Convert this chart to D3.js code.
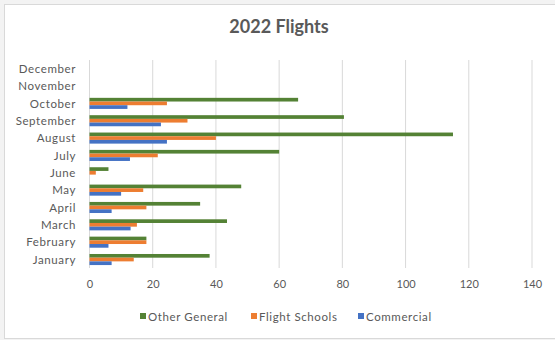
<!DOCTYPE html>
<html><head><meta charset="utf-8">
<script src="https://cdn.jsdelivr.net/npm/d3@7"></script>
<style>
html,body{margin:0;padding:0;background:#f3f3f3;}
svg{display:block;}
text{font-family:Lato,"Open Sans",sans-serif;}
</style></head>
<body>
<script>
const months = ["January","February","March","April","May","June","July","August","September","October","November","December"];
const seriesNames = ["Other General","Flight Schools","Commercial"];
const otherGeneral = [38,18,43.5,35,48,6,60,115,80.5,66,null,null];
const flightSchools = [14,18,15,18,17,2,21.6,40,31,24.5,null,null];
const commercial = [7,6,13,7,10,0,12.8,24.5,22.6,12,null,null];
const xTicks = [0,20,40,60,80,100,120,140];
const colors = ["#548235","#ED7D31","#4472C4"];

const W = 555, H = 340;
const svg = d3.select("body").append("svg").attr("width", W).attr("height", H);
svg.append("rect").attr("x",4.5).attr("y",4.5).attr("width",W+5).attr("height",334).attr("fill","#fff").attr("stroke","#d9d9d9");

svg.append("text").attr("x",279).attr("y",33).attr("text-anchor","middle")
  .attr("font-size",18).attr("font-weight","bold").attr("fill","#595959").text("2022 Flights");

const x = d3.scaleLinear().domain([0,140]).range([89.5,532]);
const y = d3.scaleBand().domain(months.slice().reverse()).range([60,268.2]).paddingInner(0).paddingOuter(0);
const inner = d3.scaleBand().domain(seriesNames).range([0, y.bandwidth()]).paddingInner(0).paddingOuter(0.85);

// gridlines
svg.append("g").selectAll("line").data(xTicks).join("line")
  .attr("x1",d=>x(d)).attr("x2",d=>x(d)).attr("y1",60).attr("y2",268)
  .attr("stroke","#d9d9d9").attr("stroke-width",1);

// x axis labels
const xAxis = d3.axisBottom(x).tickValues(xTicks).tickSize(0).tickPadding(0);
const gx = svg.append("g").attr("transform","translate(0,280)").call(xAxis);
gx.select(".domain").remove();
gx.selectAll("text").attr("font-size",11).attr("fill","#595959").attr("font-family","Lato,'Open Sans',sans-serif");

// y axis labels
const yAxis = d3.axisLeft(y).tickSize(0).tickPadding(0);
const gy = svg.append("g").attr("transform","translate(76,0.5)").call(yAxis);
gy.select(".domain").remove();
gy.selectAll("text").attr("font-size",11.5).attr("letter-spacing","0.6px").attr("fill","#595959").attr("font-family","Lato,'Open Sans',sans-serif");

const data = [otherGeneral, flightSchools, commercial];
data.forEach((vals, si) => {
  svg.append("g").selectAll("rect").data(months.map((m,i)=>({m, v: vals[i]})).filter(d=>d.v!=null && d.v>0))
    .join("rect")
    .attr("x", x(0))
    .attr("y", d => y(d.m) + inner(seriesNames[si]))
    .attr("width", d => x(d.v) - x(0))
    .attr("height", inner.bandwidth())
    .attr("fill", colors[si]);
});

// legend
const legendX = [140, 251, 358];
const lg = svg.append("g");
seriesNames.forEach((n,i)=>{
  lg.append("rect").attr("x",legendX[i]).attr("y",313).attr("width",6).attr("height",6).attr("fill",colors[i]);
  lg.append("text").attr("x",legendX[i]+8).attr("y",320.5).attr("font-size",11.5).attr("letter-spacing","0.6px").attr("fill","#595959").text(n);
});
</script>
</body></html>
